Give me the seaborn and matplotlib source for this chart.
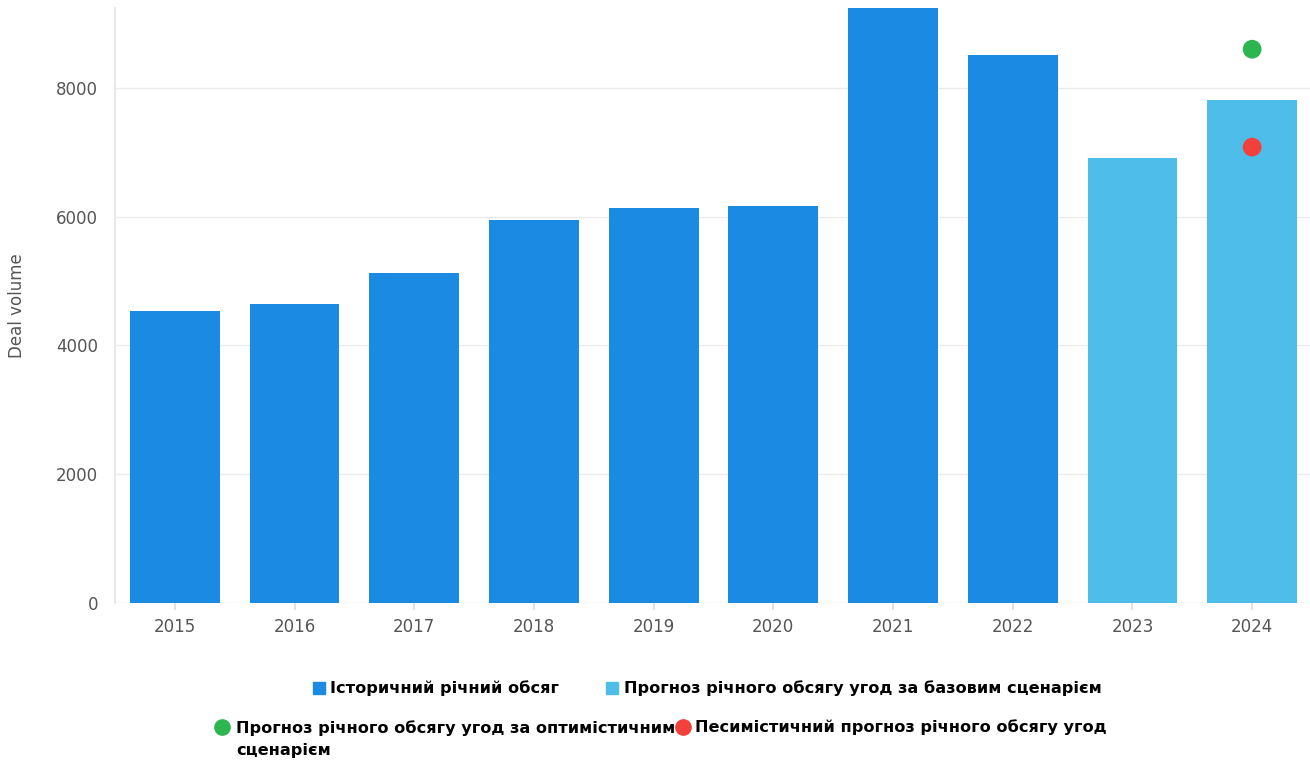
import matplotlib
matplotlib.use("Agg")
import matplotlib.pyplot as plt
from matplotlib.patches import Rectangle
from matplotlib.lines import Line2D
import seaborn as sns
import pandas as pd

# ---- data ----
years = ["2015", "2016", "2017", "2018", "2019", "2020", "2021", "2022", "2023", "2024"]
volumes = [4540, 4650, 5120, 5950, 6140, 6170, 9500, 8510, 6910, 7810]
bar_kind = ["hist"] * 8 + ["base"] * 2
scenario_years = ["2024", "2024"]
scenario_values = [8600, 7080]
scenario_kind = ["opt", "pess"]

labels = {
    "hist": "Історичний річний обсяг",
    "base": "Прогноз річного обсягу угод за базовим сценарієм",
    "opt": "Прогноз річного обсягу угод за оптимістичним\nсценарієм",
    "pess": "Песимістичний прогноз річного обсягу угод",
}
colors = {"hist": "#1a8ae3", "base": "#4fbde9", "opt": "#2db552", "pess": "#f2413a"}

W, H = 1310, 762
sns.set_theme(style="white")
plt.rcParams["font.family"] = ["DejaVu Sans"]
fig = plt.figure(figsize=(W / 100, H / 100), dpi=100)
ax = fig.add_axes([115 / W, 1 - 603 / H, (1312 - 115) / W, (603 - 8) / H])

bars = pd.DataFrame({"year": years, "volume": volumes, "kind": bar_kind})
sns.barplot(data=bars, x="year", y="volume", hue="kind", order=years,
            palette=colors, dodge=False, width=0.75, ax=ax, legend=False,
            saturation=1, edgecolor="none")

pts = pd.DataFrame({"year": scenario_years, "value": scenario_values, "kind": scenario_kind})
sns.stripplot(data=pts, x="year", y="value", hue="kind", order=years,
              palette=colors, jitter=False, size=13.5, ax=ax, legend=False, zorder=5)

ax.set_xlim(-0.5, len(years) - 0.5)
ax.set_ylim(0, 9240)
ax.set_yticks([0, 2000, 4000, 6000, 8000])
ax.yaxis.grid(True, color="#ebebeb", linewidth=1)
ax.set_axisbelow(True)
for s in ["top", "right", "bottom"]:
    ax.spines[s].set_visible(False)
ax.spines["left"].set_color("#e6e6e6")
ax.axhline(0, color="#e6e6e6", linewidth=1, zorder=0)
ax.tick_params(axis="x", length=5, color="#dddddd", labelsize=12, labelcolor="#555555", pad=6, bottom=True)
ax.tick_params(axis="y", length=0, labelsize=12, labelcolor="#555555", pad=12)
ax.set_xlabel("")
ax.set_ylabel("Deal volume", fontsize=12, color="#555555", labelpad=22)

# ---- legend (figure pixel positions) ----
def fx(x):
    return x / W

def fy(y):
    return 1 - y / H

def square(x, y, key):
    fig.add_artist(Rectangle((fx(x), fy(y + 12)), 12 / W, 12 / H,
                             transform=fig.transFigure, color=colors[key]))

def dot(x, y, key):
    fig.add_artist(Line2D([fx(x)], [fy(y)], marker="o", markersize=11,
                          color=colors[key], transform=fig.transFigure))

tkw = dict(fontsize=11.6, fontweight="bold", color="black", va="center", ha="left")
square(313, 682, "hist")
fig.text(fx(330), fy(688), labels["hist"], **tkw)
square(606, 682, "base")
fig.text(fx(624), fy(688), labels["base"], **tkw)
dot(222, 727, "opt")
fig.text(fx(236), fy(739), labels["opt"], linespacing=1.55, **tkw)
dot(683, 727, "pess")
fig.text(fx(695), fy(727), labels["pess"], **tkw)

fig.savefig("out.png", dpi=100, facecolor="white")
